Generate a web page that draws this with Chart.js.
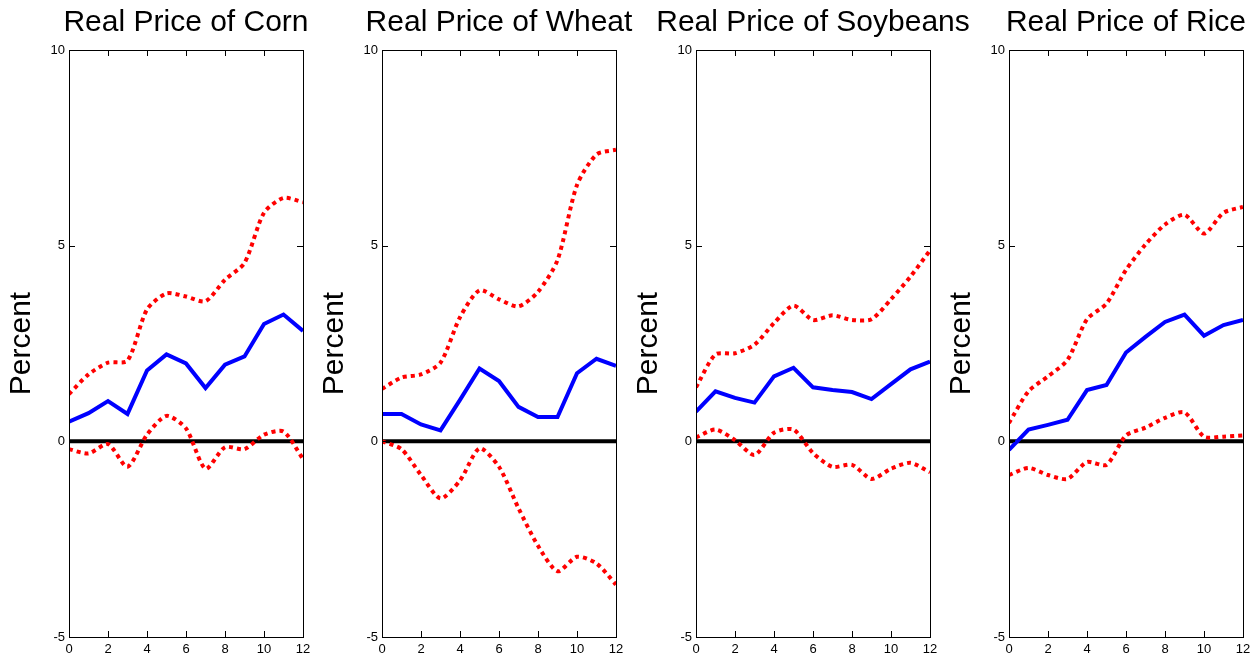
<!DOCTYPE html>
<html>
<head>
<meta charset="utf-8">
<script src="https://cdn.jsdelivr.net/npm/chart.js@4.4.1/dist/chart.umd.min.js"></script>
<style>
  body { margin: 0; background: #ffffff; }
  #wrap { position: relative; width: 1260px; height: 660px; overflow: hidden; }
  canvas { position: absolute; top: 0; }
</style>
</head>
<body>
<div id="wrap">
  <canvas id="corn" width="360" height="660" style="left:0px"></canvas>
  <canvas id="wheat" width="360" height="660" style="left:313px"></canvas>
  <canvas id="soy" width="360" height="660" style="left:627px"></canvas>
  <canvas id="rice" width="320" height="660" style="left:940px"></canvas>
</div>
<script>
// horizons (months) and tick labels
const horizon = [0, 1, 2, 3, 4, 5, 6, 7, 8, 9, 10, 11, 12]
const xTicks = [0, 2, 4, 6, 8, 10, 12]
const yTicks = [-5, 0, 5, 10]

// responses (percent)
const cornIrf   = [0.50, 0.72, 1.03, 0.70, 1.81, 2.22, 1.99, 1.36, 1.96, 2.17, 3.00, 3.24, 2.82]
const cornUpper = [1.21, 1.71, 2.01, 2.06, 3.37, 3.78, 3.70, 3.58, 4.13, 4.56, 5.84, 6.22, 6.11]
const cornLower = [-0.20, -0.31, -0.07, -0.65, 0.17, 0.65, 0.33, -0.70, -0.15, -0.20, 0.17, 0.25, -0.45]

const wheatIrf   = [0.70, 0.70, 0.43, 0.28, 1.06, 1.86, 1.54, 0.88, 0.62, 0.62, 1.74, 2.11, 1.93]
const wheatUpper = [1.34, 1.63, 1.71, 2.01, 3.17, 3.86, 3.63, 3.45, 3.82, 4.63, 6.55, 7.33, 7.45]
const wheatLower = [0.00, -0.20, -0.86, -1.46, -1.00, -0.18, -0.65, -1.71, -2.67, -3.32, -2.95, -3.12, -3.66]

const soyIrf   = [0.76, 1.28, 1.11, 0.99, 1.66, 1.88, 1.38, 1.31, 1.26, 1.08, 1.46, 1.84, 2.04]
const soyUpper = [1.38, 2.22, 2.25, 2.47, 3.02, 3.47, 3.10, 3.22, 3.10, 3.12, 3.63, 4.21, 4.88]
const soyLower = [0.10, 0.30, 0.03, -0.35, 0.22, 0.30, -0.30, -0.65, -0.60, -0.96, -0.70, -0.55, -0.79]

const riceIrf   = [-0.22, 0.30, 0.42, 0.55, 1.31, 1.44, 2.27, 2.67, 3.05, 3.24, 2.70, 2.97, 3.10]
const riceUpper = [0.47, 1.28, 1.66, 2.08, 3.12, 3.52, 4.38, 5.03, 5.54, 5.79, 5.31, 5.84, 5.99]
const riceLower = [-0.86, -0.68, -0.86, -0.96, -0.53, -0.60, 0.15, 0.35, 0.60, 0.74, 0.12, 0.12, 0.15]

const fontFam = "'Liberation Sans', Arial, sans-serif"

// box, inner ticks, zero line and panel title, all placed through the scales
const frame = {
    id: 'frame',
    beforeDatasetsDraw(chart) {
        const ctx = chart.ctx
        const a = chart.chartArea
        const y0 = chart.scales.y.getPixelForValue(0)
        ctx.save()
        ctx.strokeStyle = '#000000'
        ctx.lineWidth = 4
        ctx.beginPath()
        ctx.moveTo(a.left, y0)
        ctx.lineTo(a.right, y0)
        ctx.stroke()
        ctx.restore()
    },
    afterDraw(chart, args, opts) {
        const ctx = chart.ctx
        const a = chart.chartArea
        const t = 6
        ctx.save()
        ctx.strokeStyle = '#000000'
        ctx.lineWidth = 1
        ctx.strokeRect(Math.round(a.left) + 0.5, Math.round(a.top) + 0.5,
            Math.round(a.right - a.left), Math.round(a.bottom - a.top))
        ctx.beginPath()
        xTicks.forEach(v => {
            const px = Math.round(chart.scales.x.getPixelForValue(v)) + 0.5
            ctx.moveTo(px, a.bottom); ctx.lineTo(px, a.bottom - t)
            ctx.moveTo(px, a.top); ctx.lineTo(px, a.top + t)
        })
        yTicks.forEach(v => {
            const py = Math.round(chart.scales.y.getPixelForValue(v)) + 0.5
            ctx.moveTo(a.left, py); ctx.lineTo(a.left + t, py)
            ctx.moveTo(a.right, py); ctx.lineTo(a.right - t, py)
        })
        ctx.stroke()
        // title centred over the plot box, allowed to run past it
        ctx.fillStyle = '#000000'
        ctx.font = '30px ' + fontFam
        ctx.textAlign = 'center'
        ctx.textBaseline = 'middle'
        ctx.fillText(opts.text, (a.left + a.right) / 2, 23)
        ctx.restore()
    }
}

const pts = vals => horizon.map((h, i) => ({ x: h, y: vals[i] }))

function panel(id, title, irf, upper, lower) {
    const cv = document.getElementById(id)
    new Chart(cv, {
        type: 'line',
        data: {
            datasets: [
                { data: pts(irf), borderColor: '#0000ff', borderWidth: 4, pointRadius: 0, tension: 0 },
                { data: pts(upper), borderColor: '#ff0000', borderWidth: 4, borderDash: [4, 4], pointRadius: 0, tension: 0.25 },
                { data: pts(lower), borderColor: '#ff0000', borderWidth: 4, borderDash: [4, 4], pointRadius: 0, tension: 0.25 }
            ]
        },
        options: {
            responsive: false,
            animation: false,
            devicePixelRatio: 1,
            layout: { padding: { left: 0, right: cv.width - 303, top: 50, bottom: 0 } },
            plugins: {
                legend: { display: false },
                tooltip: { enabled: false },
                title: { display: false },
                frame: { text: title }
            },
            scales: {
                x: {
                    type: 'linear',
                    min: 0,
                    max: 12,
                    grid: { display: false, drawTicks: false },
                    border: { display: false },
                    afterBuildTicks: s => { s.ticks = xTicks.map(v => ({ value: v })) },
                    afterFit: s => { s.height = 23 },
                    ticks: { color: '#000000', padding: 5, maxRotation: 0, font: { family: fontFam, size: 13 } }
                },
                y: {
                    min: -5,
                    max: 10,
                    grid: { display: false, drawTicks: false },
                    border: { display: false },
                    afterBuildTicks: s => { s.ticks = yTicks.map(v => ({ value: v })) },
                    afterFit: s => { s.width = 69 },
                    ticks: { color: '#000000', padding: 4, font: { family: fontFam, size: 13 } },
                    title: {
                        display: true,
                        text: 'Percent',
                        color: '#000000',
                        font: { family: fontFam, size: 30, lineHeight: 1.2 },
                        padding: { top: 4, bottom: 4 }
                    }
                }
            }
        },
        plugins: [frame]
    })
}

panel('corn', 'Real Price of Corn', cornIrf, cornUpper, cornLower)
panel('wheat', 'Real Price of Wheat', wheatIrf, wheatUpper, wheatLower)
panel('soy', 'Real Price of Soybeans', soyIrf, soyUpper, soyLower)
panel('rice', 'Real Price of Rice', riceIrf, riceUpper, riceLower)
</script>
</body>
</html>
